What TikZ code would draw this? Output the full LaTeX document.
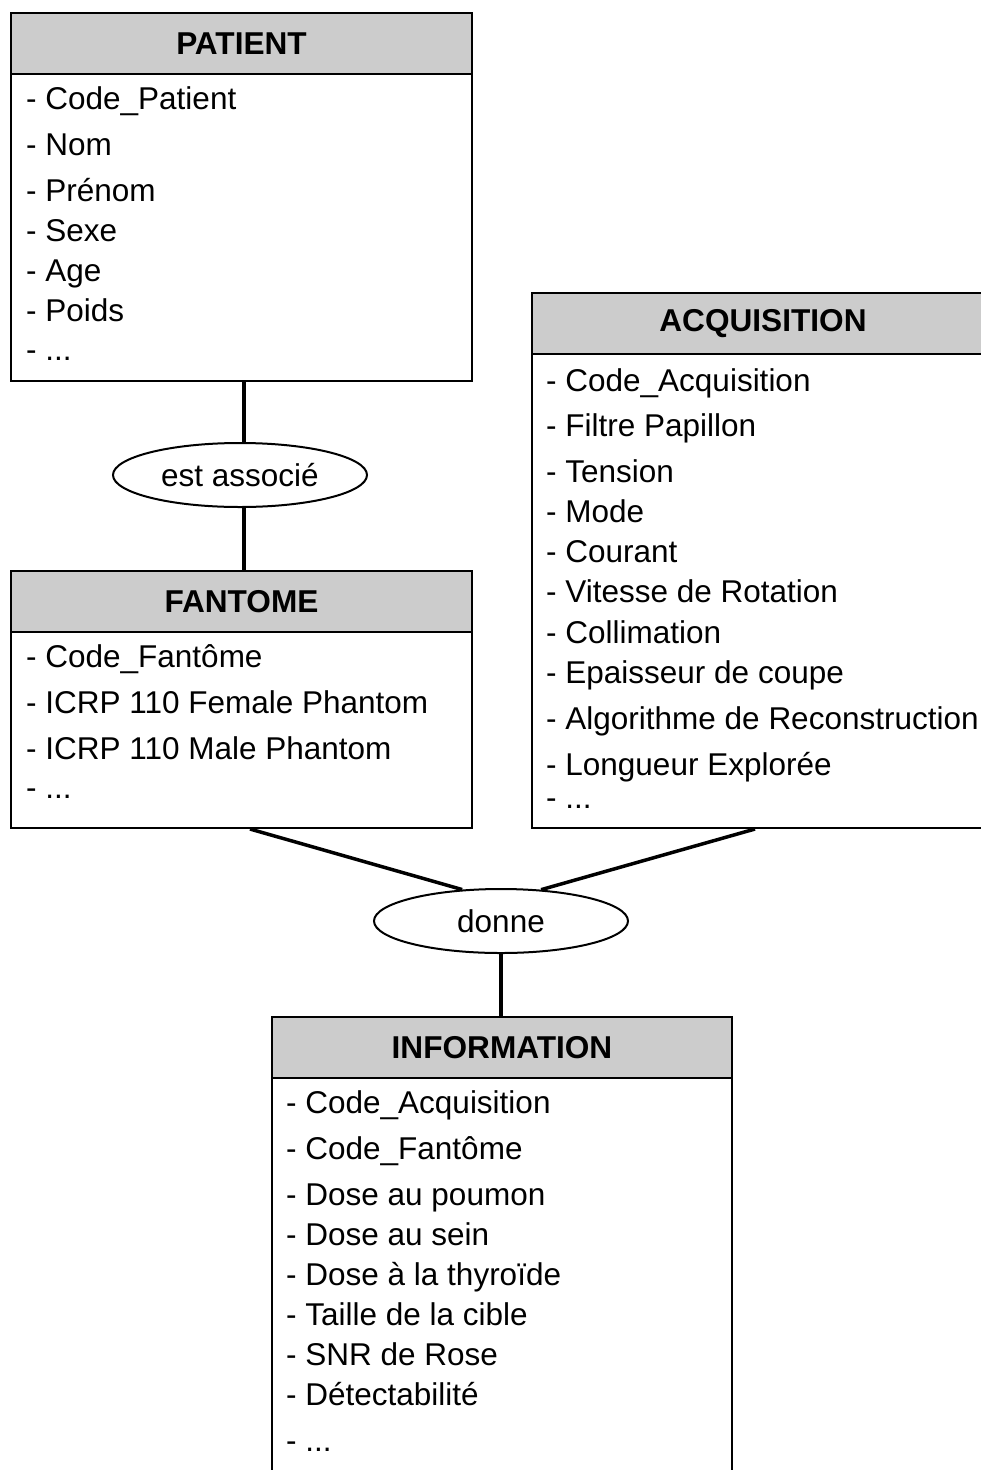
\documentclass[tikz,border=0pt]{standalone}
\usepackage{fontspec}
\setmainfont{Liberation Sans}
\usetikzlibrary{shapes.geometric,calc}
\definecolor{hdr}{HTML}{CCCCCC}
\tikzset{
  entbox/.style={draw=black, line width=2pt, rectangle, inner sep=0pt, minimum width=461pt, anchor=north west},
  hdrbox/.style={draw=black, line width=2pt, fill=hdr, rectangle, inner sep=0pt, minimum width=461pt, minimum height=61pt, anchor=north west, font=\fontsize{31.6}{38}\selectfont\bfseries},
  item/.style={anchor=base west, inner sep=0pt, font=\fontsize{31.5}{38}\selectfont},
  rel/.style={draw=black, line width=2pt, ellipse, inner sep=0pt, minimum width=254pt, minimum height=64pt, font=\fontsize{31.5}{38}\selectfont},
  link/.style={line width=3.5pt, line cap=butt}
}
\begin{document}
\begin{tikzpicture}[x=1pt,y=-1pt]
\useasboundingbox (0,0) rectangle (981,1470);
\fill[white] (0,0) rectangle (981,1470);
\clip (0,0) rectangle (981,1470);

% PATIENT
\node[entbox, minimum height=368pt] (patient) at (10,12) {};
\node[hdrbox] (patienth) at (10,12) {PATIENT};
\node[item] (p1) at (26,109) {- Code\_Patient};
\node[item] (p2) at (26,155) {- Nom};
\node[item] (p3) at (26,201) {- Prénom};
\node[item] (p4) at (26,241) {- Sexe};
\node[item] (p5) at (26,281) {- Age};
\node[item] (p6) at (26,321) {- Poids};
\node[item] (p7) at (26,360) {- ...};

% ACQUISITION
\node[entbox, minimum height=535pt, minimum width=462pt] (acq) at (531,292) {};
\node[hdrbox, minimum width=462pt] (acqh) at (531,292) {ACQUISITION};
\node[item] (a1) at (546,391) {- Code\_Acquisition};
\node[item] (a2) at (546,436) {- Filtre Papillon};
\node[item] (a3) at (546,482) {- Tension};
\node[item] (a4) at (546,522) {- Mode};
\node[item] (a5) at (546,562) {- Courant};
\node[item] (a6) at (546,602) {- Vitesse de Rotation};
\node[item] (a7) at (546,643) {- Collimation};
\node[item] (a8) at (546,683) {- Epaisseur de coupe};
\node[item] (a9) at (546,729) {- Algorithme de Reconstruction};
\node[item] (a10) at (546,775) {- Longueur Explorée};
\node[item] (a11) at (546,808) {- ...};

% FANTOME
\node[entbox, minimum height=257pt] (fantome) at (10,570) {};
\node[hdrbox] (fantomeh) at (10,570) {FANTOME};
\node[item] (f1) at (26,667) {- Code\_Fantôme};
\node[item] (f2) at (26,713) {- ICRP 110 Female Phantom};
\node[item] (f3) at (26,759) {- ICRP 110 Male Phantom};
\node[item] (f4) at (26,798) {- ...};

% INFORMATION
\node[entbox, minimum height=480pt, minimum width=460pt] (info) at (271,1016) {};
\node[hdrbox, minimum width=460pt] (infoh) at (271,1016) {INFORMATION};
\node[item] (i1) at (286,1113) {- Code\_Acquisition};
\node[item] (i2) at (286,1159) {- Code\_Fantôme};
\node[item] (i3) at (286,1205) {- Dose au poumon};
\node[item] (i4) at (286,1245) {- Dose au sein};
\node[item] (i5) at (286,1285) {- Dose à la thyroïde};
\node[item] (i6) at (286,1325) {- Taille de la cible};
\node[item] (i7) at (286,1365) {- SNR de Rose};
\node[item] (i8) at (286,1405) {- Détectabilité};
\node[item] (i9) at (286,1451) {- ...};

% relations
\node[rel] (assoc) at (240,475) {est associé};
\node[rel] (donne) at (501,921) {donne};

\coordinate (pb) at ($(patient.south west)+(234,0)$);
\coordinate (ft) at ($(fantome.north west)+(234,0)$);
\coordinate (fb) at ($(fantome.south west)+(240,0)$);
\coordinate (ab) at ($(acq.south west)+(224,0)$);
\coordinate (it) at ($(info.north west)+(230,0)$);

\draw[link] (pb) -- (pb |- assoc.north);
\draw[link] (pb |- assoc.south) -- (ft);
\draw[link] (fb) -- (donne.141);
\draw[link] (ab) -- (donne.38);
\draw[link] (donne.south) -- (it);
\end{tikzpicture}
\end{document}
